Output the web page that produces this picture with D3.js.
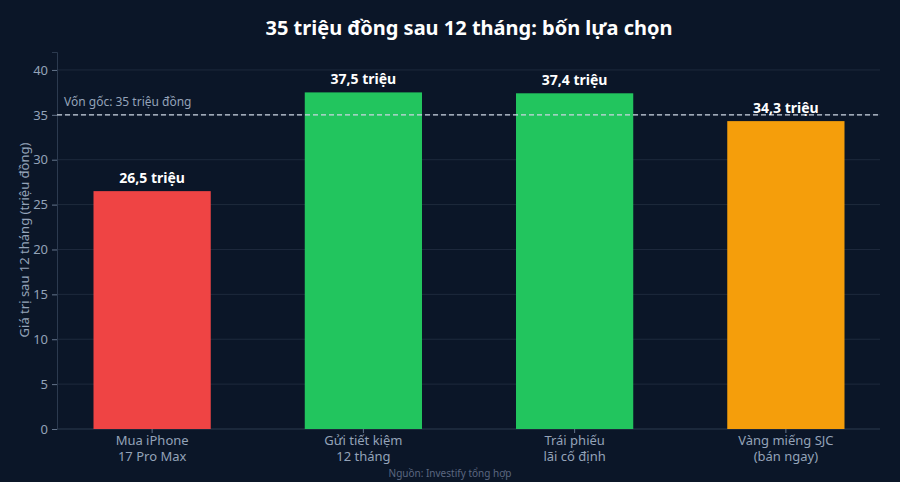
<!DOCTYPE html><html><head><meta charset="utf-8"><script src="https://cdn.jsdelivr.net/npm/d3@7"></script>
<style>body{margin:0;background:#0b1628;font-family:"Noto Sans",sans-serif}</style></head><body><svg id="c" width="900" height="482"></svg>
<script>
const categories=[["Mua iPhone","17 Pro Max"],["Gửi tiết kiệm","12 tháng"],["Trái phiếu","lãi cố định"],["Vàng miếng SJC","(bán ngay)"]];
const values=[26.5,37.5,37.4,34.3];
const labels=["26,5 triệu","37,5 triệu","37,4 triệu","34,3 triệu"];
const colors=["#ef4444","#22c55e","#22c55e","#f59e0b"];
const yTicks=[0,5,10,15,20,25,30,35,40];
const baseline=35;
const svg=d3.select("#c");
const x=d3.scaleBand().domain(d3.range(4)).range([46.5,891.5]).paddingInner(0.445).paddingOuter(0.2225);
const y=d3.scaleLinear().domain([0,42]).range([429,52]);
const L=57,R=880;
svg.append("g").selectAll("line").data(yTicks.slice(1)).join("line").attr("x1",L).attr("x2",R).attr("y1",d=>y(d)).attr("y2",d=>y(d)).attr("stroke","#1e2a3d").attr("stroke-width",1);
const ya=svg.append("g").attr("transform",`translate(${L},0)`).call(d3.axisLeft(y).tickValues(yTicks).tickSize(5).tickPadding(4));
ya.select(".domain").attr("stroke","#2c3a4f");ya.selectAll(".tick line").attr("stroke","#64748b");
ya.selectAll("text").attr("fill","#94a3b8").style("font-size","13px").style("font-family","Noto Sans");
svg.append("line").attr("x1",L).attr("x2",R).attr("y1",429).attr("y2",429).attr("stroke","#2c3a4f");
svg.append("g").selectAll("rect").data(values).join("rect").attr("x",(d,i)=>x(i)).attr("width",x.bandwidth()).attr("y",d=>y(d)).attr("height",d=>y(0)-y(d)).attr("fill",(d,i)=>colors[i]);
svg.append("line").attr("x1",L).attr("x2",R).attr("y1",y(baseline)).attr("y2",y(baseline)).attr("stroke","#cbd5e1").attr("stroke-width",1.2).attr("stroke-dasharray","5,3");
svg.append("text").attr("x",64).attr("y",y(baseline)-9).attr("fill","#94a3b8").style("font-size","12px").text("Vốn gốc: 35 triệu đồng");
svg.append("g").selectAll("text").data(values).join("text").attr("x",(d,i)=>x(i)+x.bandwidth()/2).attr("y",d=>y(d)-8).attr("text-anchor","middle").attr("fill","#fff").style("font-size","14px").style("font-weight","bold").text((d,i)=>labels[i]);
[0,1].forEach(k=>{
svg.append("g").selectAll("text").data(categories).join("text").attr("x",(d,i)=>x(i)+x.bandwidth()/2).attr("y",445+16*k).attr("text-anchor","middle").attr("fill","#94a3b8").style("font-size","13px").text(d=>d[k]);
});
svg.append("g").selectAll("line").data(d3.range(4)).join("line").attr("x1",i=>x(i)+x.bandwidth()/2).attr("x2",i=>x(i)+x.bandwidth()/2).attr("y1",429).attr("y2",433).attr("stroke","#64748b");
svg.append("text").attr("transform","translate(29,240) rotate(-90)").attr("text-anchor","middle").attr("fill","#94a3b8").style("font-size","13px").text("Giá trị sau 12 tháng (triệu đồng)");
svg.append("text").attr("x",469).attr("y",35).attr("text-anchor","middle").attr("fill","#fff").style("font-size","20px").style("font-weight","bold").text("35 triệu đồng sau 12 tháng: bốn lựa chọn");
svg.append("text").attr("x",450).attr("y",477).attr("text-anchor","middle").attr("fill","#5b6780").style("font-size","10px").text("Nguồn: Investify tổng hợp");
</script></body></html>
